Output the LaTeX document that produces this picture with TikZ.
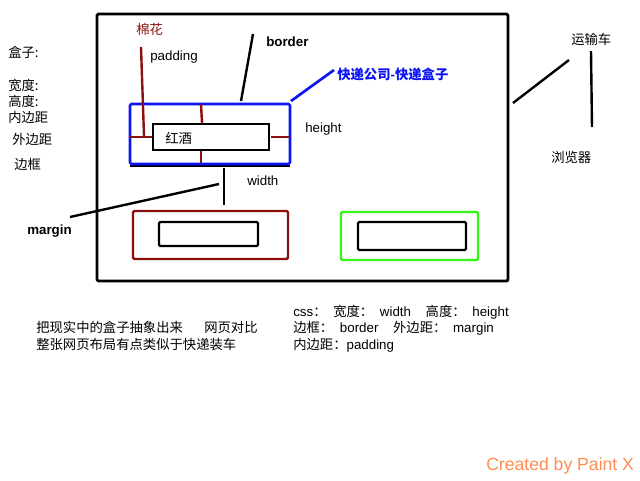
\documentclass[tikz,border=0pt]{standalone}
\usepackage{fontspec}
\setmainfont{Liberation Sans}
\newfontfamily\cjk{Noto Sans CJK SC}
\begin{document}
\begin{tikzpicture}[x=0.75pt,y=-0.75pt,
  lbl/.style={anchor=west,inner sep=0pt,font=\fontsize{10}{12}\selectfont},
  blbl/.style={lbl,font=\fontsize{10}{12}\selectfont\bfseries},
  thick1/.style={line width=2.2pt,line join=round},
  thick2/.style={line width=1.9pt,line join=round},
]
\definecolor{dred}{RGB}{140,16,16}
\definecolor{bblue}{RGB}{10,20,245}
\definecolor{lgreen}{RGB}{50,245,20}
\definecolor{orng}{RGB}{255,140,80}
\useasboundingbox (0,0) rectangle (640,480);
% big outer box
\draw[thick1,rounded corners=1pt] (97,14) rectangle (508,281);
% blue box
\draw[line width=1.8pt] (130,166) -- (290,166);
\draw[thick2,bblue,rounded corners=1pt] (130,104) rectangle (290,164);
% inner wine box
\draw[line width=1.7pt] (153,124) rectangle (269,150);
\node[lbl] (wine) at (165,138) {\cjk 红酒};
% padding marks
\draw[dred,line width=1.8pt] (141,47) -- (144,136);
\draw[dred,line width=1.8pt] (130,137) -- (152,137);
\draw[dred,line width=1.8pt] (201,104) -- (202,123);
\draw[dred,line width=1.8pt] (201,151) -- (201,163);
\draw[dred,line width=1.8pt] (271,137) -- (289,137);
\node[lbl,text=dred] (cotton) at (136,29) {\cjk 棉花};
\node[lbl] (padding) at (150,57) {padding};
% border
\draw[line width=1.8pt] (253,34) -- (241,101);
\node[blbl] (border) at (266,42) {border};
% express
\draw[bblue,line width=2pt] (291,101) -- (334,70);
\node[blbl,text=bblue] (express) at (337,74) {{\cjk\bfseries 快递公司}-{\cjk\bfseries 快递盒子}};
\node[lbl] (height) at (305,129) {height};
% width
\draw[line width=1.8pt] (224,168) -- (224,205);
\node[lbl] (width) at (247,181) {width};
% margin
\draw[line width=1.8pt] (70,217) -- (219,184);
\node[blbl] (margin) at (27,231) {margin};
% dark red box
\draw[draw=dred,line width=1.8pt,rounded corners=1pt] (133,211) rectangle (288,259);
\draw[line width=1.7pt,rounded corners=1pt] (159,222) rectangle (258,246);
% green box
\draw[draw=lgreen,line width=1.8pt,rounded corners=1pt] (341,212) rectangle (478,260);
\draw[line width=1.7pt,rounded corners=1pt] (358,222) rectangle (466,250);
% left labels
\node[lbl] (l1) at (8,52) {\cjk 盒子:};
\node[lbl] (l2) at (8,85) {\cjk 宽度:};
\node[lbl] (l3) at (8,101) {\cjk 高度:};
\node[lbl] (l4) at (8,117) {\cjk 内边距};
\node[lbl] (l5) at (12,139) {\cjk 外边距};
\node[lbl] (l6) at (14,164) {\cjk 边框};
% right
\node[lbl] (truck) at (571,39) {\cjk 运输车};
\draw[line width=1.8pt] (513,103) -- (569,60);
\draw[line width=1.8pt] (591,51) -- (592,127);
\node[lbl] (browser) at (551,157) {\cjk 浏览器};
% bottom text
\node[lbl] (b1) at (36,327) {\cjk 把现实中的盒子抽象出来\hspace{1.6em}网页对比};
\node[lbl] (b2) at (36,344) {\cjk 整张网页布局有点类似于快递装车};
\node[lbl] (c1) at (293,312) {css{\cjk ：}\hspace{0.5em}{\cjk 宽度：}\hspace{0.5em}width\hspace{1.1em}{\cjk 高度：}\hspace{0.5em}height};
\node[lbl] (c2) at (293,328) {{\cjk 边框：}\hspace{0.5em}border\hspace{1.1em}{\cjk 外边距：}\hspace{0.5em}margin};
\node[lbl] (c3) at (293,345) {{\cjk 内边距：}padding};
\node[lbl,text=orng,font=\fontsize{13.2}{15}\selectfont] (credit) at (486,466) {Created by Paint X};
\end{tikzpicture}
\end{document}
